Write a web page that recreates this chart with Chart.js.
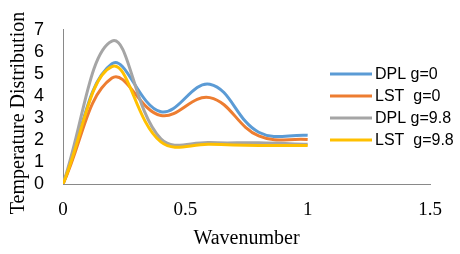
<!DOCTYPE html>
<html>
<head>
<meta charset="utf-8">
<script src="https://cdn.jsdelivr.net/npm/chart.js@4/dist/chart.umd.min.js"></script>
<style>
  html, body { margin: 0; padding: 0; background: #fff; }
  #wrap { width: 460px; height: 254px; }
</style>
</head>
<body>
<div id="wrap"><canvas id="chart" width="460" height="254"></canvas></div>
<script>
// данные с графика
const wavenumber = [0, 0.2, 0.4, 0.6, 0.8, 1.0];
const dplG0 = [0, 5.46, 3.28, 4.53, 2.35, 2.21];
const lstG0 = [0, 4.81, 3.11, 3.92, 2.18, 2.02];
const dplG98 = [0, 6.49, 2.05, 1.88, 1.87, 1.80];
const lstG98 = [0, 5.33, 1.91, 1.80, 1.75, 1.75];

const seriesNames = ["DPL g=0", "LST  g=0", "DPL g=9.8", "LST  g=9.8"];
const seriesValues = [dplG0, lstG0, dplG98, lstG98];
const seriesColors = ["#5B9BD5", "#ED7D31", "#A5A5A5", "#FFC000"];

const xTitle = "Wavenumber";
const yTitle = "Temperature Distribution";

const axisColor = "#898989";
const serif = "'Liberation Serif', 'Times New Roman', serif";
const sans = "'Liberation Sans', Arial, sans-serif";

const toPoints = (vals) => vals.map((v, i) => ({ x: wavenumber[i], y: v }));

const datasets = seriesValues.map((vals, i) => ({
    label: seriesNames[i],
    data: toPoints(vals),
    borderColor: seriesColors[i],
    backgroundColor: seriesColors[i],
    borderWidth: 3,
    pointRadius: 0,
    tension: 0.4,
    fill: false,
    order: seriesValues.length - i,
}));

// легенда и подпись оси Y рисуются вручную
const extrasPlugin = {
    id: "extras",
    afterDraw(chart) {
        const ctx = chart.ctx;
        ctx.save();
        ctx.font = "16px " + sans;
        ctx.textBaseline = "middle";
        ctx.textAlign = "left";
        chart.data.datasets.forEach((ds, i) => {
            const y = 74 + i * 22;
            ctx.strokeStyle = ds.borderColor;
            ctx.lineWidth = 3;
            ctx.beginPath();
            ctx.moveTo(330, y);
            ctx.lineTo(372, y);
            ctx.stroke();
            ctx.fillStyle = "#000";
            ctx.fillText(ds.label, 375, y + 1);
        });
        ctx.restore();

        ctx.save();
        ctx.translate(24, 113);
        ctx.rotate(-Math.PI / 2);
        ctx.font = "20px " + serif;
        ctx.fillStyle = "#000";
        ctx.textAlign = "center";
        ctx.textBaseline = "alphabetic";
        ctx.fillText(yTitle, 0, 0);
        ctx.restore();
    },
};

new Chart(document.getElementById("chart"), {
    type: "line",
    data: { datasets },
    options: {
        responsive: false,
        animation: false,
        events: [],
        layout: { padding: { top: 13, right: 30, bottom: 0, left: 0 } },
        plugins: {
            legend: { display: false },
            tooltip: { enabled: false },
        },
        scales: {
            x: {
                type: "linear",
                min: 0,
                max: 1.5,
                afterFit: (scale) => { scale.height = 70; },
                grid: { display: false, drawTicks: false },
                border: { display: true, color: axisColor, width: 1 },
                ticks: {
                    stepSize: 0.5,
                    autoSkip: false,
                    padding: 15,
                    color: "#000",
                    maxRotation: 0,
                    font: { family: serif, size: 19 },
                    callback: (v) => String(Number(v)),
                },
                title: {
                    display: true,
                    text: xTitle,
                    color: "#000",
                    padding: { top: 0, bottom: 3 },
                    font: { family: serif, size: 20 },
                },
            },
            y: {
                min: 0,
                max: 7,
                afterFit: (scale) => { scale.width = 63; },
                grid: { display: false, drawTicks: false },
                border: { display: true, color: axisColor, width: 1 },
                ticks: {
                    stepSize: 1,
                    autoSkip: false,
                    padding: 19,
                    color: "#000",
                    font: { family: sans, size: 18 },
                    callback: (v) => String(Number(v)),
                },
            },
        },
    },
    plugins: [extrasPlugin],
});
</script>
</body>
</html>
